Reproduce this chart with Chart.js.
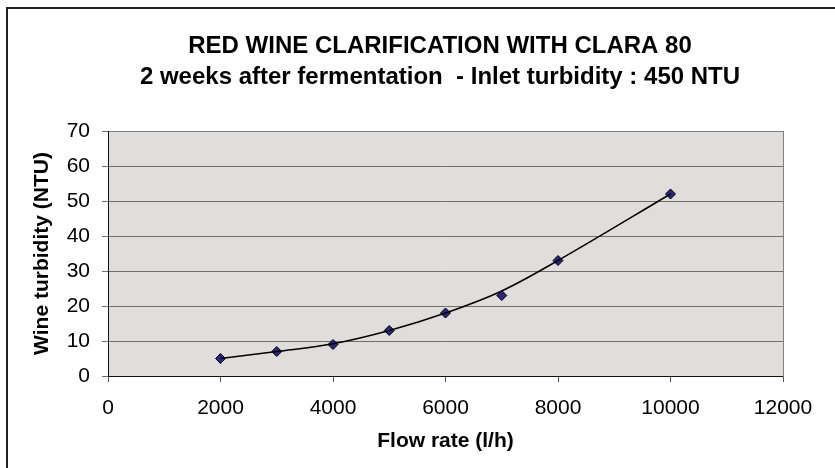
<!DOCTYPE html>
<html>
<head>
<meta charset="utf-8">
<script src="https://cdn.jsdelivr.net/npm/chart.js@4/dist/chart.umd.min.js"></script>
<style>
html,body{margin:0;padding:0;background:#fff;}
#wrap{width:835px;height:468px;position:relative;}
</style>
</head>
<body>
<div id="wrap"><canvas id="c" width="835" height="468"></canvas></div>
<script>
// Data
const flowRates = [2000, 3000, 4000, 5000, 6000, 7000, 8000, 10000];
const wineTurbidity = [5, 7, 9, 13, 18, 23, 33, 52];
// curve drawn through the points
const curveTurbidity = [5, 7, 9.2, 13, 18, 24.3, 33, 52];
const xTicks = [0, 2000, 4000, 6000, 8000, 10000, 12000];
const yTicks = [0, 10, 20, 30, 40, 50, 60, 70];
const titleLines = ['RED WINE CLARIFICATION WITH CLARA 80', '2 weeks after fermentation  - Inlet turbidity : 450 NTU'];
const xTitle = 'Flow rate (l/h)';
const yTitle = 'Wine turbidity (NTU)';

const FONT = '"Liberation Sans", Arial, sans-serif';

const decor = {
  id: 'decor',
  beforeDraw(chart) {
    const {ctx, chartArea: a} = chart;
    ctx.save();
    ctx.fillStyle = '#fff';
    ctx.fillRect(0, 0, chart.width, chart.height);
    ctx.fillStyle = '#dfdedd';
    ctx.fillRect(a.left, a.top, a.right - a.left, a.bottom - a.top);
    // outer chart border (top and left visible)
    ctx.strokeStyle = '#222';
    ctx.lineWidth = 2;
    ctx.beginPath();
    ctx.moveTo(7, chart.height);
    ctx.lineTo(7, 8);
    ctx.lineTo(chart.width, 8);
    ctx.stroke();
    ctx.restore();
  },
  beforeDatasetsDraw(chart) {
    const {ctx, chartArea: a} = chart;
    ctx.save();
    ctx.strokeStyle = '#808080';
    ctx.lineWidth = 1;
    ctx.strokeRect(Math.round(a.left) + 0.5, Math.round(a.top) + 0.5, Math.round(a.right - a.left), Math.round(a.bottom - a.top));
    ctx.strokeStyle = '#111';
    ctx.beginPath();
    ctx.moveTo(Math.round(a.left) + 0.5, a.top);
    ctx.lineTo(Math.round(a.left) + 0.5, Math.round(a.bottom) + 0.5);
    ctx.lineTo(a.right, Math.round(a.bottom) + 0.5);
    ctx.stroke();
    ctx.restore();
  },
  afterDraw(chart) {
    const {ctx} = chart;
    ctx.save();
    ctx.fillStyle = '#000';
    ctx.font = 'bold 24px ' + FONT;
    ctx.textAlign = 'center';
    ctx.textBaseline = 'middle';
    ctx.fillText(titleLines[0], 440, 46);
    ctx.fillText(titleLines[1], 440, 77);
    ctx.restore();
  }
};

new Chart(document.getElementById('c'), {
  type: 'scatter',
  data: {
    datasets: [
      {
        label: 'curve',
        data: flowRates.map((x, i) => ({x, y: curveTurbidity[i]})),
        showLine: true,
        borderColor: '#000',
        borderWidth: 1.5,
        tension: 0.35,
        pointRadius: 0,
        pointHoverRadius: 0,
        fill: false
      },
      {
        label: 'Wine turbidity',
        data: flowRates.map((x, i) => ({x, y: wineTurbidity[i]})),
        showLine: false,
        pointStyle: 'rectRot',
        pointRadius: 5,
        pointBackgroundColor: '#2c2680',
        pointBorderColor: '#000',
        pointBorderWidth: 1
      }
    ]
  },
  options: {
    responsive: false,
    animation: false,
    devicePixelRatio: 1,
    layout: {padding: {top: 131, right: 52, left: 0, bottom: 0}},
    plugins: {legend: {display: false}, title: {display: false}, tooltip: {enabled: false}},
    scales: {
      x: {
        type: 'linear',
        min: 0, max: 12000,
        afterFit(s) { s.height = 92; },
        afterBuildTicks(s) { s.ticks = xTicks.map(v => ({value: v})); },
        grid: {drawOnChartArea: false, drawTicks: true, tickLength: 6, color: '#555', lineWidth: 1},
        border: {display: false},
        ticks: {color: '#000', font: {family: FONT, size: 21}, padding: 14, maxRotation: 0, callback: v => String(v)},
        title: {display: true, text: xTitle, color: '#000', font: {family: FONT, size: 21, weight: 'bold'}, padding: {top: 0, bottom: 14}}
      },
      y: {
        type: 'linear',
        min: 0, max: 70,
        afterFit(s) { s.width = 108; },
        afterBuildTicks(s) { s.ticks = yTicks.map(v => ({value: v})); },
        grid: {drawOnChartArea: true, drawTicks: true, tickLength: 6, color: '#6e6e6e', lineWidth: 1},
        border: {display: false},
        ticks: {color: '#000', font: {family: FONT, size: 21}, padding: 12, callback: v => String(v)},
        title: {display: true, text: yTitle, color: '#000', font: {family: FONT, size: 21, weight: 'bold'}, padding: {top: 30, bottom: 0}}
      }
    }
  },
  plugins: [decor]
});
</script>
</body>
</html>
